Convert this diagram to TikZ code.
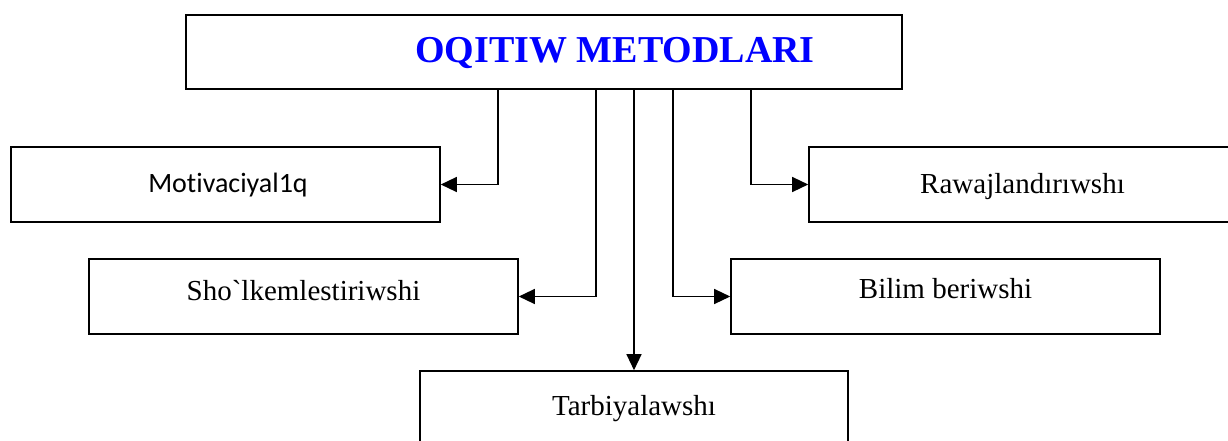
\documentclass[tikz,border=0pt]{standalone}
\usepackage{fontspec}
\setmainfont{Liberation Serif}[Ligatures=TeXOff]
\newfontfamily\calfont{Carlito}[Ligatures={TeXOff,CommonOff,RareOff,ContextualOff}]
\usetikzlibrary{arrows.meta}
\definecolor{titleblue}{RGB}{0,0,255}
\tikzset{
  box/.style={draw=black, line width=1.6pt, rectangle, inner sep=0pt, minimum height=75pt, fill=white},
  lbl/.style={inner sep=0pt, anchor=base, font=\fontsize{29}{34}\selectfont},
  conn/.style={draw=black, line width=1.3pt, -{Triangle[length=16pt,width=15pt]}},
}
\begin{document}
\begin{tikzpicture}[x=1pt, y=-1pt]
\clip (0,0) rectangle (1228,441);
\fill[white] (0,0) rectangle (1228,441);
% boxes
\node[box, minimum width=716pt, minimum height=74pt] (top) at (544,52) {};
\node[box, minimum width=429pt] (mot) at (225.5,184.5) {};
\node[box, minimum width=427pt] (raw) at (1022.5,184.5) {};
\node[box, minimum width=429pt] (sho) at (303.5,296.5) {};
\node[box, minimum width=429pt] (bil) at (945.5,296.5) {};
\node[box, minimum width=428pt] (tar) at (634,408.5) {};
% texts
\node[lbl, font=\fontsize{38}{44}\selectfont\bfseries, text=titleblue] (ttl) at (615,63) {OQITIW METODLARI};
\node[lbl, font=\calfont\fontsize{28}{33}\selectfont] (tmot) at (228,192) {Motivaciyal1q};
\node[lbl] (traw) at (1022.5,193) {Rawajland\char"0131 r\char"0131 wsh\char"0131};
\node[lbl] (tsho) at (303.5,300) {Sho`lkemlestiriwshi};
\node[lbl] (tbil) at (945.5,298) {Bilim beriwshi};
\node[lbl] (ttar) at (634,415) {Tarbiyalawsh\char"0131};
% connector columns
\coordinate (c1) at (498,0);
\coordinate (c2) at (596,0);
\coordinate (c4) at (673,0);
\coordinate (c5) at (751,0);
% connectors
\draw[conn] (top.south -| c1) |- (mot.east);
\draw[conn] (top.south -| c2) |- (sho.east);
\draw[conn] (top.south -| tar.north) -- (tar.north);
\draw[conn] (top.south -| c4) |- (bil.west);
\draw[conn] (top.south -| c5) |- (raw.west);
\end{tikzpicture}
\end{document}
